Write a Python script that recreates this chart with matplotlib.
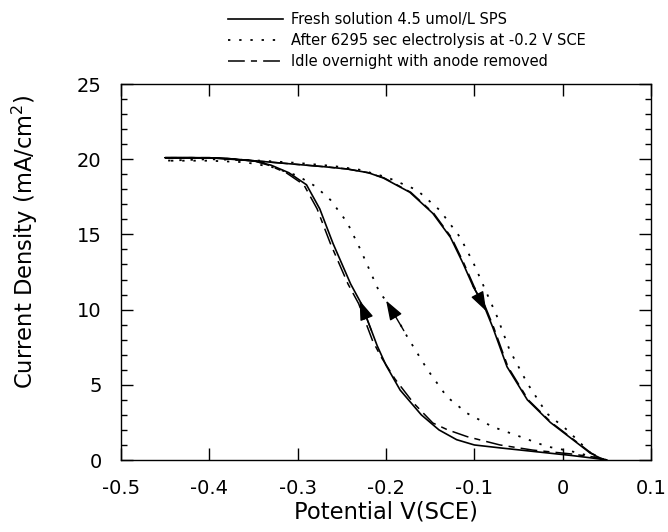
import numpy as np
import matplotlib
matplotlib.use("Agg")
import matplotlib.pyplot as plt

plt.rcParams['font.family'] = ['DejaVu Sans']
plt.rcParams['mathtext.fontset'] = 'dejavusans'

# ---------------- data (potential V vs SCE, current density mA/cm^2) ----------------
# Fresh solution 4.5 umol/L SPS
fresh_fwd_E = [0.05, 0.035, 0.01, -0.03, -0.07, -0.10, -0.12, -0.14, -0.16, -0.184, -0.20,
               -0.21, -0.228, -0.24, -0.26, -0.275, -0.29, -0.31, -0.33, -0.35, -0.38, -0.42, -0.45]
fresh_fwd_I = [0.0, 0.12, 0.3, 0.55, 0.8, 1.0, 1.35, 2.0, 3.0, 4.65, 6.3,
               7.6, 10.4, 11.7, 14.4, 16.7, 18.3, 19.1, 19.6, 19.9, 20.05, 20.1, 20.1]
fresh_rev_E = [-0.45, -0.40, -0.34, -0.30, -0.27, -0.244, -0.22, -0.203, -0.173, -0.147, -0.127,
               -0.113, -0.101, -0.09, -0.079, -0.063, -0.04, -0.014, 0.012, 0.031, 0.045]
fresh_rev_I = [20.1, 20.1, 19.85, 19.65, 19.5, 19.35, 19.1, 18.75, 17.8, 16.4, 14.8,
               13.1, 11.5, 10.4, 8.8, 6.2, 4.0, 2.5, 1.33, 0.47, 0.05]

# After 6295 sec electrolysis at -0.2 V SCE
elec_fwd_E = [0.05, 0.035, 0.012, -0.018, -0.048, -0.079, -0.108, -0.131, -0.153, -0.176, -0.197,
              -0.207, -0.229, -0.244, -0.263, -0.28, -0.30, -0.33, -0.36, -0.40, -0.45]
elec_fwd_I = [0.0, 0.2, 0.55, 0.9, 1.55, 2.2, 3.1, 4.2, 6.0, 8.2, 10.4,
              11.1, 14.0, 15.8, 17.3, 18.2, 18.9, 19.5, 19.8, 19.9, 19.9]
elec_rev_E = [-0.45, -0.40, -0.34, -0.30, -0.26, -0.23, -0.199, -0.165, -0.139, -0.116, -0.101,
              -0.086, -0.074, -0.06, -0.04, -0.018, 0.005, 0.02, 0.034, 0.045]
elec_rev_I = [19.9, 20.0, 19.9, 19.75, 19.55, 19.3, 18.8, 17.95, 16.6, 14.8, 13.1,
              11.1, 9.5, 7.3, 5.1, 3.1, 2.0, 1.13, 0.33, 0.05]

# Idle overnight with anode removed
idle_fwd_E = [0.05, 0.035, 0.01, -0.034, -0.071, -0.108, -0.13, -0.147, -0.169, -0.19, -0.205,
              -0.215, -0.231, -0.243, -0.263, -0.278, -0.293, -0.313, -0.333, -0.35, -0.38, -0.42, -0.45]
idle_fwd_I = [0.0, 0.2, 0.4, 0.66, 1.0, 1.55, 2.0, 2.46, 3.8, 5.4, 6.8,
              7.9, 10.4, 11.7, 14.4, 16.7, 18.3, 19.1, 19.6, 19.9, 20.05, 20.1, 20.1]
idle_rev_E = [-0.45, -0.40, -0.34, -0.30, -0.27, -0.244, -0.22, -0.202, -0.172, -0.146, -0.126,
              -0.112, -0.100, -0.089, -0.078, -0.062, -0.039, -0.013, 0.013, 0.032, 0.046]
idle_rev_I = [20.1, 20.1, 19.85, 19.65, 19.5, 19.35, 19.1, 18.75, 17.8, 16.4, 14.8,
              13.1, 11.5, 10.4, 8.8, 6.2, 4.0, 2.5, 1.33, 0.47, 0.05]

labels = ["Fresh solution 4.5 umol/L SPS",
          "After 6295 sec electrolysis at -0.2 V SCE",
          "Idle overnight with anode removed"]

x_ticks = [-0.5, -0.4, -0.3, -0.2, -0.1, 0, 0.1]
x_ticklabels = ["-0.5", "-0.4", "-0.3", "-0.2", "-0.1", "0", "0.1"]
y_ticks = [0, 5, 10, 15, 20, 25]

# ---------------- figure ----------------
W, H = 668, 532
fig = plt.figure(figsize=(W / 100, H / 100), dpi=100)
ax = fig.add_axes([121 / W, (H - 460) / H, 530 / W, 376 / H])

styles = [dict(ls='-', lw=1.2),
          dict(ls=(0, (1.3, 4.9)), lw=1.3),
          dict(ls=(0, (11, 4, 4, 4)), lw=1.1)]
series = [(fresh_fwd_E, fresh_fwd_I, fresh_rev_E, fresh_rev_I),
          (elec_fwd_E, elec_fwd_I, elec_rev_E, elec_rev_I),
          (idle_fwd_E, idle_fwd_I, idle_rev_E, idle_rev_I)]

handles = []
for (fE, fI, rE, rI), st, lab in zip(series, styles, labels):
    E = list(fE) + list(rE)
    I = list(fI) + list(rI)
    h, = ax.plot(E, I, color='black', label=lab, **st)
    handles.append(h)

# direction arrows (placed on curves by interpolation)
def arrow_on(Earr, Iarr, i_tail, i_tip):
    Earr = np.asarray(Earr); Iarr = np.asarray(Iarr)
    order = np.argsort(Iarr)
    e_tail = np.interp(i_tail, Iarr[order], Earr[order])
    e_tip = np.interp(i_tip, Iarr[order], Earr[order])
    ax.annotate('', xy=(e_tip, i_tip), xytext=(e_tail, i_tail),
                arrowprops=dict(arrowstyle='-|>,head_length=1.2,head_width=0.42',
                                color='black', lw=1.0, shrinkA=0, shrinkB=0))

arrow_on(fresh_fwd_E, fresh_fwd_I, 8.6, 10.6)
arrow_on(elec_fwd_E, elec_fwd_I, 8.6, 10.6)
arrow_on(fresh_rev_E, fresh_rev_I, 11.6, 9.9)

ax.set_xlim(-0.5, 0.1)
ax.set_ylim(0, 25)
ax.set_xticks(x_ticks)
ax.set_xticklabels(x_ticklabels)
ax.set_yticks(y_ticks)
ax.set_yticks(np.arange(0, 26, 1), minor=True)
ax.tick_params(axis='both', which='major', direction='in', length=8.5, width=1,
               labelsize=14, top=True, right=True)
ax.tick_params(axis='y', which='minor', direction='in', length=4.5, width=1,
               left=True, right=True)
ax.tick_params(axis='y', which='major', pad=14)
ax.tick_params(axis='x', which='major', pad=14)
for s in ax.spines.values():
    s.set_linewidth(1.0)

ax.set_xlabel("Potential V(SCE)", fontsize=16.3, labelpad=1.5)
ax.set_ylabel("Current Density (mA/cm$^2$)", fontsize=16.3)
ax.yaxis.set_label_coords(-0.152, 0.58)

fig.legend(handles=handles, labels=labels, loc='upper left',
           bbox_to_anchor=(228 / W, 1 - 12 / H), frameon=False, fontsize=10.5,
           borderpad=0, borderaxespad=0,
           handlelength=3.8, handletextpad=0.55, labelspacing=0.42)

fig.savefig("out.png", dpi=100)
